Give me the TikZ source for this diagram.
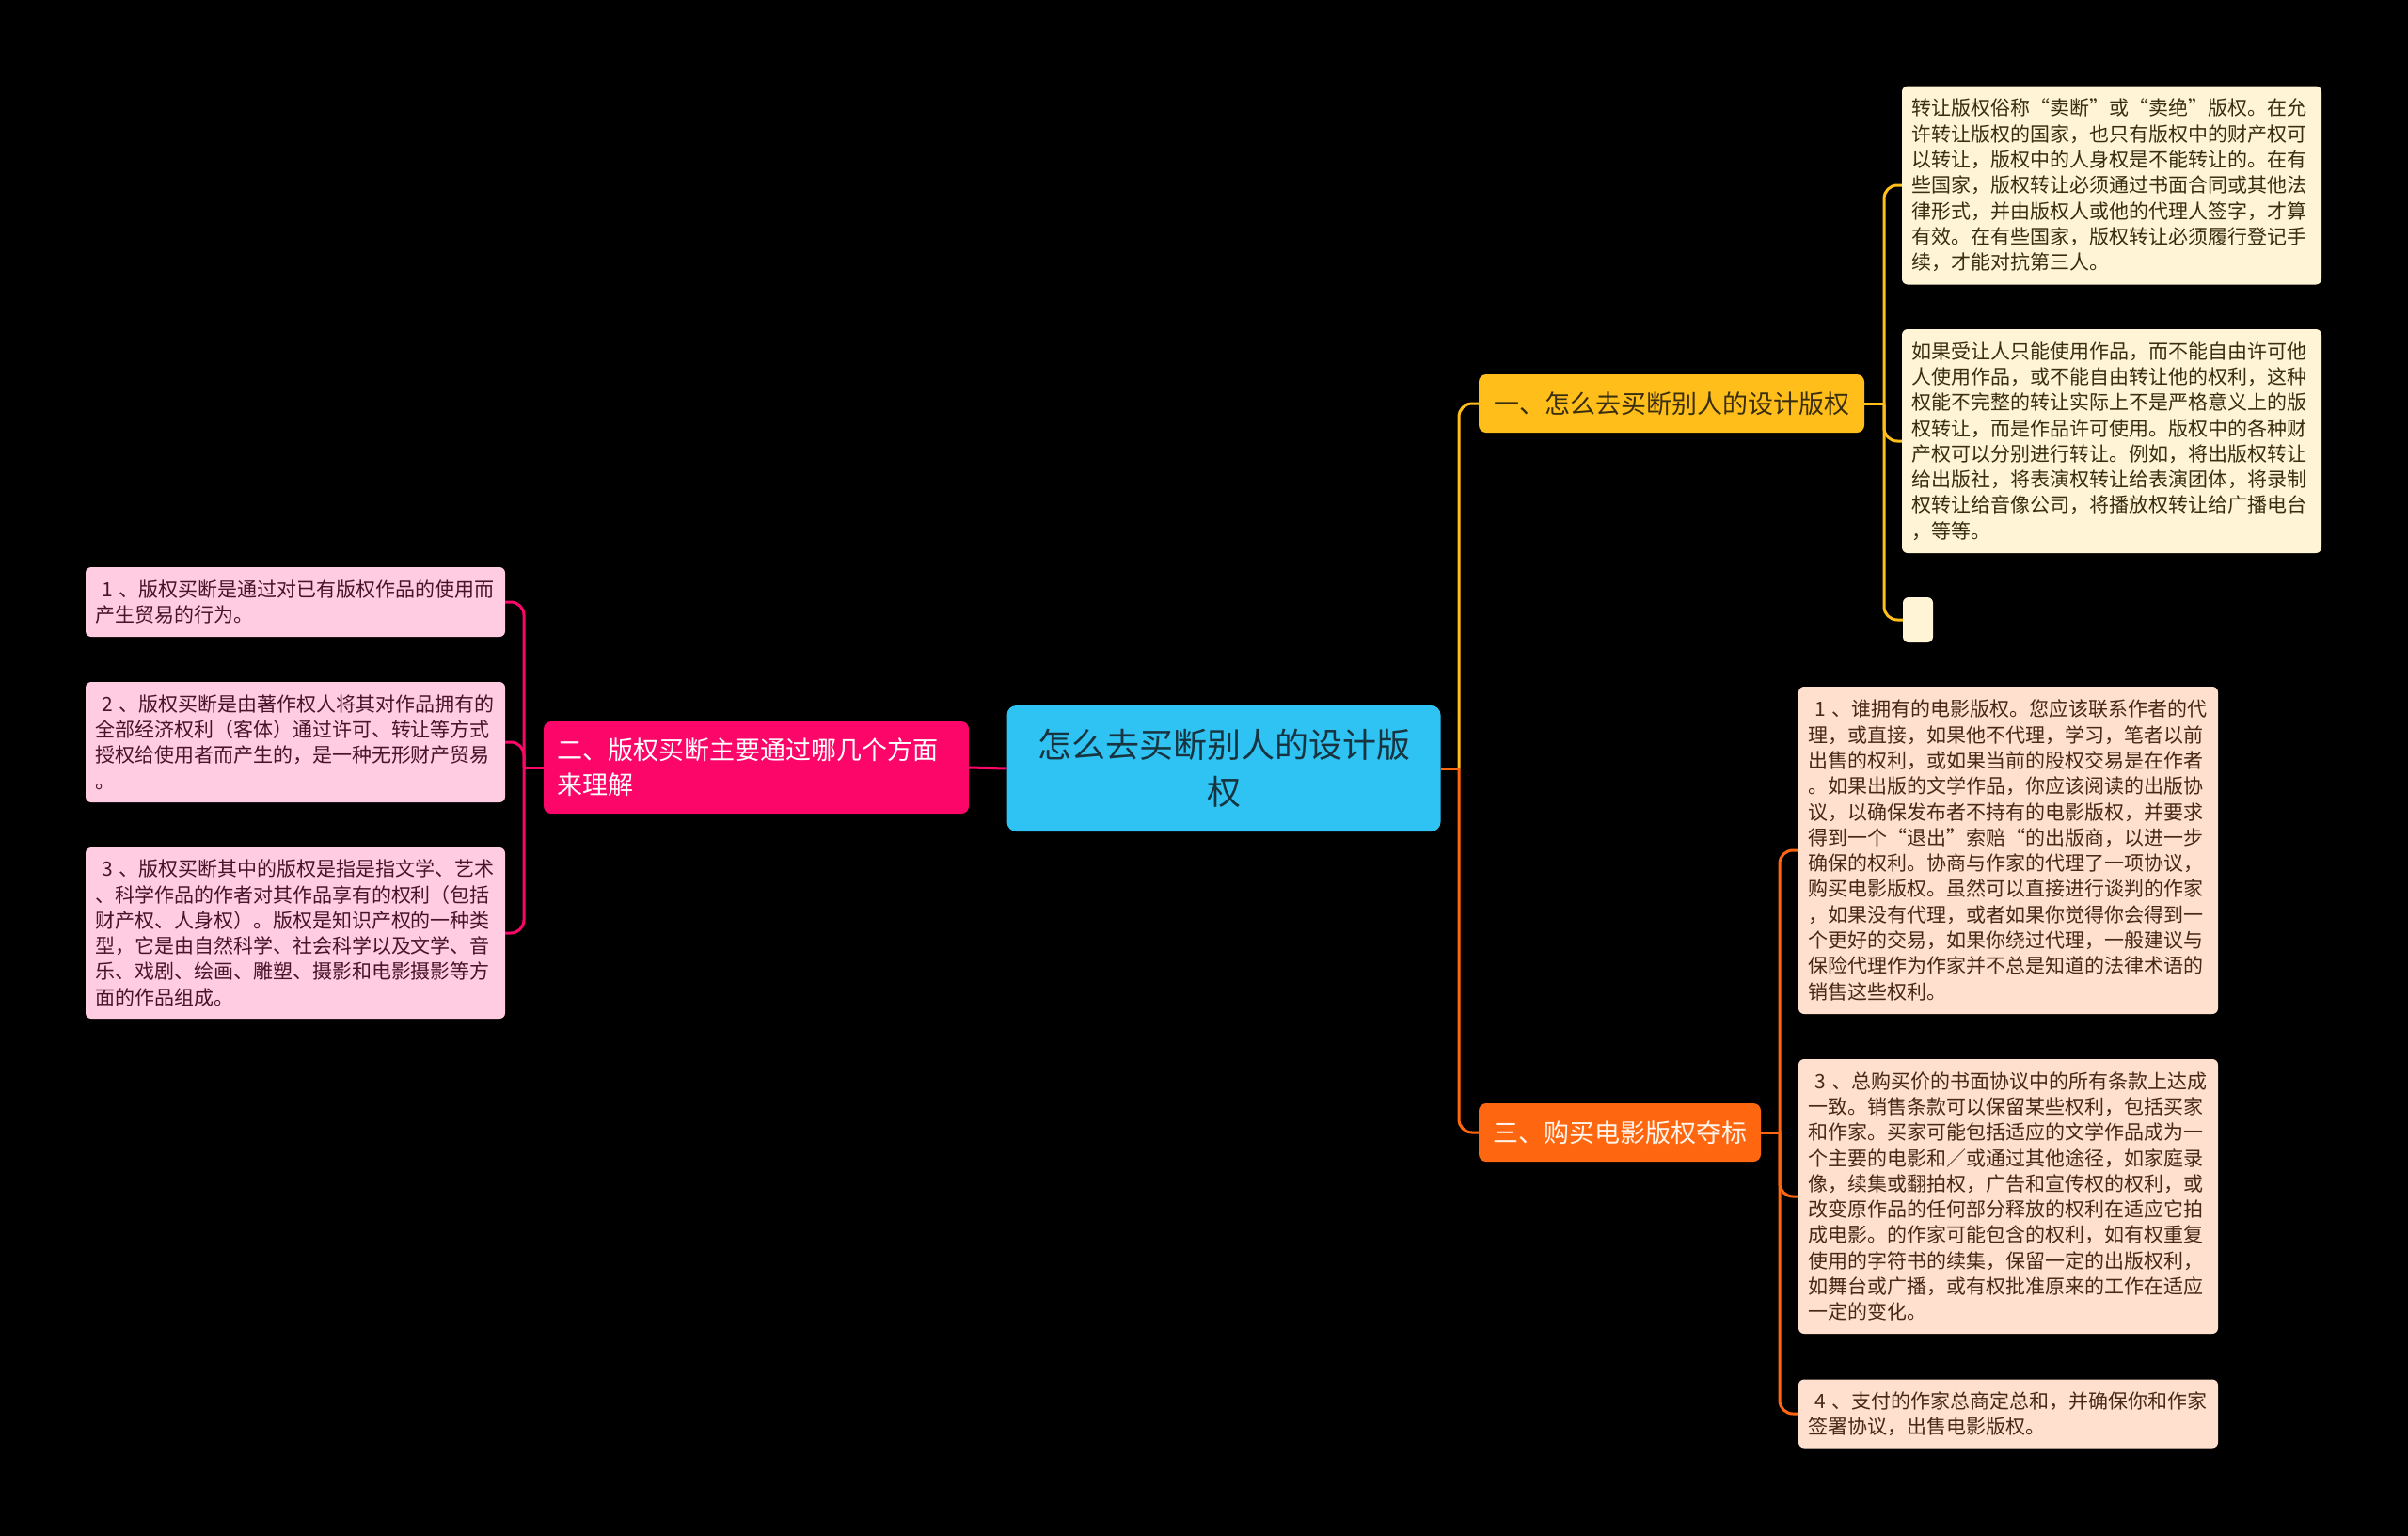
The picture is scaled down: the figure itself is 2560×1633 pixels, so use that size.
\documentclass[tikz,border=0pt]{standalone}
\usepackage{fontspec}
\setmainfont{Noto Sans CJK SC}
\definecolor{rootfill}{RGB}{46,195,242}
\definecolor{roottext}{RGB}{24,52,64}
\definecolor{pinkmain}{RGB}{252,6,106}
\definecolor{pinkleaf}{RGB}{255,204,226}
\definecolor{pinktext}{RGB}{72,20,42}
\definecolor{yellowmain}{RGB}{255,190,26}
\definecolor{yellowleaf}{RGB}{255,244,214}
\definecolor{yellowtext}{RGB}{58,46,16}
\definecolor{orangemain}{RGB}{255,102,16}
\definecolor{orangeleaf}{RGB}{255,224,206}
\definecolor{orangetext}{RGB}{72,40,22}
\begin{document}
\begin{tikzpicture}[x=1pt,y=-1pt,
  root/.style={fill=rootfill, text=roottext, rounded corners=10pt, minimum width=461pt, minimum height=134pt, inner sep=0pt, align=center, font=\fontsize{36}{50}\selectfont},
  branch/.style={rounded corners=8pt, minimum height=62pt, inner sep=0pt, align=center, font=\fontsize{27}{37}\selectfont},
  leaf/.style={rounded corners=6pt, text width=426pt, inner xsep=10pt, inner ysep=0pt, align=left, font=\fontsize{21}{27.3}\selectfont},
  link/.style={line width=3pt, rounded corners=14pt}]
\useasboundingbox (0,0) rectangle (2560,1633);
\fill[black] (0,0) rectangle (2560,1633);

\node[root] (root) at (1301,817) {怎么去买断别人的设计版\\权};

\node[branch, fill=pinkmain, text=white, text width=424pt, inner xsep=14pt, minimum height=98pt, align=left] (pb) at (804,816) {二、版权买断主要通过哪几个方面\\来理解};
\node[branch, fill=yellowmain, text=yellowtext, minimum width=410pt] (yb) at (1777,429) {一、怎么去买断别人的设计版权};
\node[branch, fill=orangemain, text={white!92!orange}, minimum width=300pt] (ob) at (1722,1204) {三、购买电影版权夺标};

\node[leaf, fill=yellowleaf, text=yellowtext, minimum height=211pt] (yl1) at (2245,197) {转让版权俗称“卖断”或“卖绝”版权。在允\\许转让版权的国家，也只有版权中的财产权可\\以转让，版权中的人身权是不能转让的。在有\\些国家，版权转让必须通过书面合同或其他法\\律形式，并由版权人或他的代理人签字，才算\\有效。在有些国家，版权转让必须履行登记手\\续，才能对抗第三人。};
\node[leaf, fill=yellowleaf, text=yellowtext, minimum height=238pt] (yl2) at (2245,469) {如果受让人只能使用作品，而不能自由许可他\\人使用作品，或不能自由转让他的权利，这种\\权能不完整的转让实际上不是严格意义上的版\\权转让，而是作品许可使用。版权中的各种财\\产权可以分别进行转让。例如，将出版权转让\\给出版社，将表演权转让给表演团体，将录制\\权转让给音像公司，将播放权转让给广播电台\\，等等。};
\node[fill=yellowleaf, rounded corners=6pt, minimum width=32pt, minimum height=48pt, inner sep=0pt] (yl3) at (2039,659) {};

\node[leaf, fill=pinkleaf, text=pinktext, minimum height=74pt] (pl1) at (314,640) {~1~、版权买断是通过对已有版权作品的使用而\\产生贸易的行为。};
\node[leaf, fill=pinkleaf, text=pinktext, minimum height=128pt] (pl2) at (314,789) {~2~、版权买断是由著作权人将其对作品拥有的\\全部经济权利（客体）通过许可、转让等方式\\授权给使用者而产生的，是一种无形财产贸易\\。};
\node[leaf, fill=pinkleaf, text=pinktext, minimum height=182pt] (pl3) at (314,992) {~3~、版权买断其中的版权是指是指文学、艺术\\、科学作品的作者对其作品享有的权利（包括\\财产权、人身权）。版权是知识产权的一种类\\型，它是由自然科学、社会科学以及文学、音\\乐、戏剧、绘画、雕塑、摄影和电影摄影等方\\面的作品组成。};

\node[leaf, fill=orangeleaf, text=orangetext, minimum height=348pt] (ol1) at (2135,904) {~1~、谁拥有的电影版权。您应该联系作者的代\\理，或直接，如果他不代理，学习，笔者以前\\出售的权利，或如果当前的股权交易是在作者\\。如果出版的文学作品，你应该阅读的出版协\\议，以确保发布者不持有的电影版权，并要求\\得到一个“退出”索赔“的出版商，以进一步\\确保的权利。协商与作家的代理了一项协议，\\购买电影版权。虽然可以直接进行谈判的作家\\，如果没有代理，或者如果你觉得你会得到一\\个更好的交易，如果你绕过代理，一般建议与\\保险代理作为作家并不总是知道的法律术语的\\销售这些权利。};
\node[leaf, fill=orangeleaf, text=orangetext, minimum height=292pt] (ol3) at (2135,1272) {~3~、总购买价的书面协议中的所有条款上达成\\一致。销售条款可以保留某些权利，包括买家\\和作家。买家可能包括适应的文学作品成为一\\个主要的电影和／或通过其他途径，如家庭录\\像，续集或翻拍权，广告和宣传权的权利，或\\改变原作品的任何部分释放的权利在适应它拍\\成电影。的作家可能包含的权利，如有权重复\\使用的字符书的续集，保留一定的出版权利，\\如舞台或广播，或有权批准原来的工作在适应\\一定的变化。};
\node[leaf, fill=orangeleaf, text=orangetext, minimum height=73pt] (ol4) at (2135,1503) {~4~、支付的作家总商定总和，并确保你和作家\\签署协议，出售电影版权。};

\coordinate (jc) at (1551,817);
\coordinate (jp) at (557,816);
\coordinate (jy) at (2003,429);
\coordinate (jo) at (1892,1204);

\draw[link, yellowmain] (jc) |- (yb.west);
\draw[link, orangemain] (jc) |- (ob.west);
\draw[link, orangemain] (root.east) -- (jc);
\draw[link, pinkmain] (root.west) -- (pb.east);
\draw[link, pinkmain] (pb.west) -- (jp);
\draw[link, pinkmain] (jp) |- (pl1.east);
\draw[link, pinkmain] (jp) |- (pl2.east);
\draw[link, pinkmain] (jp) |- (pl3.east);
\draw[link, yellowmain] (yb.east) -- (jy);
\draw[link, yellowmain] (jy) |- (yl1.west);
\draw[link, yellowmain] (jy) |- (yl2.west);
\draw[link, yellowmain] (jy) |- (yl3.west);
\draw[link, orangemain] (ob.east) -- (jo);
\draw[link, orangemain] (jo) |- (ol1.west);
\draw[link, orangemain] (jo) |- (ol3.west);
\draw[link, orangemain] (jo) |- (ol4.west);
\end{tikzpicture}
\end{document}
